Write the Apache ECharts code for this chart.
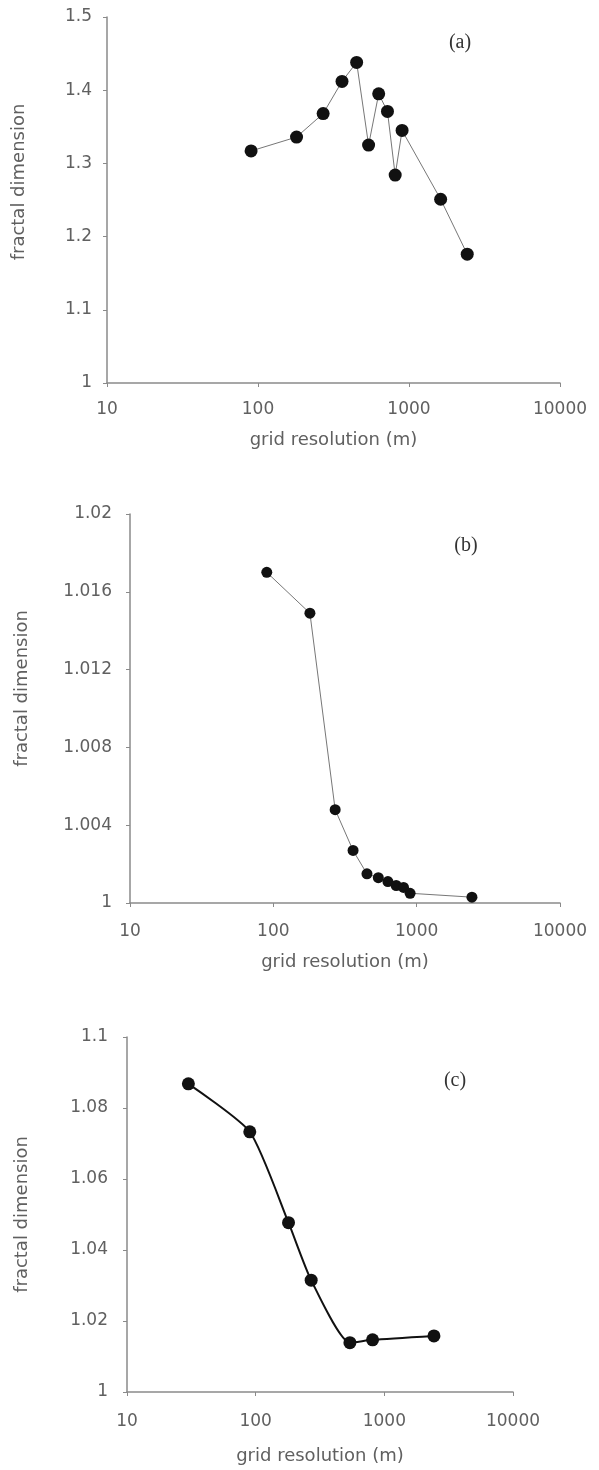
<!DOCTYPE html>
<html>
<head>
<meta charset="utf-8">
<script src="https://cdn.jsdelivr.net/npm/echarts@6/dist/echarts.min.js"></script>
<style>
html,body{margin:0;padding:0;background:#fff;}
#main{width:599px;height:1470px;}
</style>
</head>
<body>
<div id="main"></div>
<script>
// 数据 (a)
var resA = [90, 180, 270, 360, 450, 540, 630, 720, 810, 900, 1620, 2430];
var fdA = [1.317, 1.336, 1.368, 1.412, 1.438, 1.325, 1.395, 1.371, 1.284, 1.345, 1.251, 1.176];
// 数据 (b)
var resB = [90, 180, 270, 360, 450, 540, 630, 720, 810, 900, 2430];
var fdB = [1.0170, 1.0149, 1.0048, 1.0027, 1.0015, 1.0013, 1.0011, 1.0009, 1.0008, 1.0005, 1.0003];
// 数据 (c)
var resC = [30, 90, 180, 270, 540, 810, 2430];
var fdC = [1.0868, 1.0733, 1.0477, 1.0315, 1.0139, 1.0147, 1.0158];

var panelTags = ['(a)', '(b)', '(c)'];
var yRanges = [[1, 1.5, 0.1], [1, 1.02, 0.004], [1, 1.1, 0.02]];

function pairs(xs, ys){
	var out = [];
	for (var i = 0; i < xs.length; i++) out.push([xs[i], ys[i]]);
	return out;
}

var txtColor = '#606060';
var axisColor = '#8a8a8a';
var fontFam = 'DejaVu Sans';

function xAx(idx, nameGap, margin){
	return {
		type: 'log', logBase: 10, min: 10, max: 10000, gridIndex: idx,
		name: 'grid resolution (m)', nameLocation: 'middle', nameGap: nameGap,
		nameTextStyle: {color: txtColor, fontSize: 18, fontFamily: fontFam},
		axisLine: {lineStyle: {color: axisColor, width: 1.5}},
		axisTick: {length: 4, lineStyle: {color: axisColor}},
		splitLine: {show: false},
		minorTick: {show: false},
		axisLabel: {
			color: txtColor, fontSize: 17, margin: margin, fontFamily: fontFam,
			formatter: function(v){ return String(Math.round(v)); }
		}
	};
}
// shift: 名称沿轴向上偏移
function yAx(idx, nameGap, margin, shift){
	var r = yRanges[idx];
	return {
		type: 'value', min: r[0], max: r[1], interval: r[2], gridIndex: idx,
		name: 'fractal dimension', nameLocation: 'middle', nameGap: nameGap,
		nameTextStyle: {color: txtColor, fontSize: 18, fontFamily: fontFam, padding: [0, 0, 0, shift * 2]},
		axisLine: {show: true, lineStyle: {color: axisColor, width: 1.5}},
		axisTick: {show: true, length: 4, lineStyle: {color: axisColor}},
		splitLine: {show: false},
		axisLabel: {color: txtColor, fontSize: 17, margin: margin, fontFamily: fontFam}
	};
}

function tag(i, x, y){
	return {
		type: 'text', x: x, y: y,
		style: {text: panelTags[i], fontSize: 20, fill: '#333', fontFamily: 'Liberation Serif', align: 'center', verticalAlign: 'middle'}
	};
}

var myChart = echarts.init(document.getElementById('main'));
var option = {
	backgroundColor: '#fff',
	animation: false,
	grid: [
		{left: 107, right: 39, top: 17, height: 366},
		{left: 130, right: 39, top: 514, height: 389},
		{left: 127, right: 86, top: 1037, height: 355}
	],
	xAxis: [xAx(0, 48, 18), xAx(1, 50, 20), xAx(2, 55, 21)],
	yAxis: [yAx(0, 79, 15, 18), yAx(1, 99, 18, 20), yAx(2, 96, 19, 0)],
	series: [
		{
			type: 'line', xAxisIndex: 0, yAxisIndex: 0,
			data: pairs(resA, fdA),
			symbol: 'circle', symbolSize: 13,
			lineStyle: {color: '#777', width: 1},
			itemStyle: {color: '#111'}
		},
		{
			type: 'line', xAxisIndex: 1, yAxisIndex: 1,
			data: pairs(resB, fdB),
			symbol: 'circle', symbolSize: 11,
			lineStyle: {color: '#777', width: 1},
			itemStyle: {color: '#111'}
		},
		{
			type: 'line', xAxisIndex: 2, yAxisIndex: 2,
			data: pairs(resC, fdC),
			smooth: 0.2,
			symbol: 'circle', symbolSize: 13,
			lineStyle: {color: '#111', width: 2},
			itemStyle: {color: '#111'}
		}
	],
	graphic: [tag(0, 460, 43), tag(1, 466, 546), tag(2, 455, 1081)]
};
myChart.setOption(option);
</script>
</body>
</html>
